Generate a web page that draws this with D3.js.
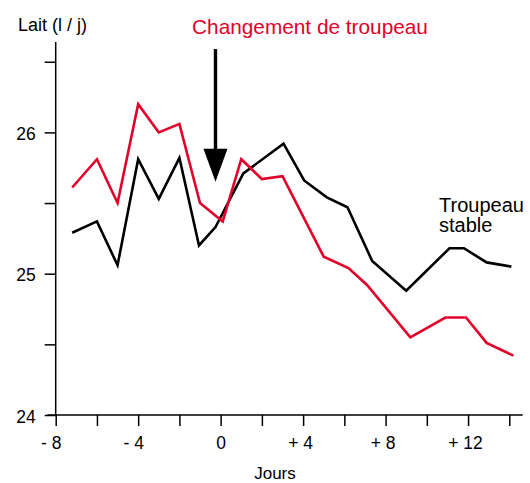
<!DOCTYPE html>
<html>
<head>
<meta charset="utf-8">
<script src="https://cdn.jsdelivr.net/npm/d3@7"></script>
<style>
  body { margin: 0; background: #fff; }
  svg text { font-family: "Liberation Sans", Arial, sans-serif; fill: #000; }
</style>
</head>
<body>
<div id="chart"></div>
<script>
// values (days, l/j)
var daysChange = [-7.2, -6, -5, -4, -3, -2, -1, 0.1, 1, 2, 3, 5, 6.2, 7.1, 9.2, 10.9, 11.9, 12.9, 14.2];
var milkChange = [25.61, 25.81, 25.50, 26.20, 26.00, 26.06, 25.50, 25.37, 25.81, 25.67, 25.69, 25.12, 25.04, 24.92, 24.55, 24.69, 24.69, 24.51, 24.42];

var daysStable = [-7.2, -6, -5, -4, -3, -2, -1.05, -0.25, 1.1, 3.05, 4.05, 5.15, 6.15, 7.35, 9, 11.1, 11.8, 12.9, 14.1];
var milkStable = [25.29, 25.37, 25.06, 25.81, 25.53, 25.82, 25.20, 25.33, 25.71, 25.92, 25.66, 25.54, 25.47, 25.09, 24.88, 25.18, 25.18, 25.08, 25.05];

var xTicks = [-8, -6, -4, -2, 0, 2, 4, 6, 8, 10, 12, 14];
var xLabelled = [-8, -4, 0, 4, 8, 12];
var yTicks = [24, 24.5, 25, 25.5, 26, 26.5];
var yLabelled = [24, 25, 26];
var arrowDay = -0.25, arrowTop = 26.59, arrowTip = 25.65;

var red = "#e2002a";
var W = 530, H = 483;

var svg = d3.select("#chart").append("svg")
	.attr("width", W)
	.attr("height", H);

var x = d3.scaleLinear().domain([-8, 14]).range([55.7, 509.3]);
var y = d3.scaleLinear().domain([24, 26]).range([415, 132.4]);

/* axes */
var xAxis = d3.axisBottom(x)
	.tickValues(xTicks)
	.tickSize(11)
	.tickSizeOuter(0)
	.tickFormat(function(d){
		if (xLabelled.indexOf(d) < 0) return "";
		if (d < 0) return "- " + (-d);
		if (d > 0) return "+ " + d;
		return "0";
	});

var gx = svg.append("g")
	.attr("transform", "translate(0," + y(24) + ")")
	.call(xAxis);
gx.select(".domain").remove();
gx.selectAll("line").attr("stroke", "#000").attr("stroke-width", 1.5);
gx.selectAll("text")
	.attr("y", 34)
	.attr("dy", 0)
	.attr("dx", function(d){ return d == 0 ? 0 : (d < 0 ? -5 : -3); })
	.style("font-size", "17.5px");
gx.append("line")
	.attr("x1", x(-8.4)).attr("x2", x(14.65))
	.attr("y1", 0).attr("y2", 0)
	.attr("stroke", "#000").attr("stroke-width", 1.5);

var yAxis = d3.axisLeft(y)
	.tickValues(yTicks)
	.tickSize(11)
	.tickSizeOuter(0)
	.tickFormat(function(d){ return yLabelled.indexOf(d) < 0 ? "" : d; });

var gy = svg.append("g")
	.attr("transform", "translate(" + x(-8) + ",0)")
	.call(yAxis);
gy.select(".domain").remove();
gy.selectAll("line").attr("stroke", "#000").attr("stroke-width", 1.5);
gy.selectAll("text")
	.attr("x", -20)
	.attr("dy", "0.4em")
	.style("font-size", "17.5px");
gy.append("line")
	.attr("x1", 0).attr("x2", 0)
	.attr("y1", y(24)).attr("y2", y(26.64))
	.attr("stroke", "#000").attr("stroke-width", 1.5);

/* lines */
var line = d3.line()
	.x(function(d){ return x(d[0]); })
	.y(function(d){ return y(d[1]); });

svg.append("path")
	.datum(d3.zip(daysStable, milkStable))
	.attr("d", line)
	.attr("fill", "none")
	.attr("stroke", "#000")
	.attr("stroke-width", 2.6)
	.attr("stroke-linejoin", "miter");

svg.append("path")
	.datum(d3.zip(daysChange, milkChange))
	.attr("d", line)
	.attr("fill", "none")
	.attr("stroke", red)
	.attr("stroke-width", 2.6)
	.attr("stroke-linejoin", "miter");

/* arrow */
var ax = x(arrowDay);
svg.append("line")
	.attr("x1", ax).attr("x2", ax)
	.attr("y1", y(arrowTop)).attr("y2", y(arrowTip) - 30)
	.attr("stroke", "#000").attr("stroke-width", 3.4);
svg.append("path")
	.attr("d", "M" + (ax - 12) + "," + (y(arrowTip) - 33) +
		"L" + (ax + 12) + "," + (y(arrowTip) - 33) +
		"L" + ax + "," + y(arrowTip) + "Z")
	.attr("fill", "#000");

/* texts */
svg.append("text")
	.attr("x", 18)
	.attr("y", 31)
	.style("font-size", "18px")
	.text("Lait (l / j)");

svg.append("text")
	.attr("x", 310)
	.attr("y", 34)
	.attr("text-anchor", "middle")
	.style("font-size", "20.8px")
	.style("fill", red)
	.text("Changement de troupeau");

svg.append("text")
	.attr("x", 275)
	.attr("y", 479)
	.attr("text-anchor", "middle")
	.style("font-size", "17px")
	.text("Jours");

svg.append("text")
	.attr("x", 439)
	.attr("y", 212)
	.style("font-size", "20px")
	.text("Troupeau");
svg.append("text")
	.attr("x", 439)
	.attr("y", 232)
	.style("font-size", "20px")
	.text("stable");
</script>
</body>
</html>
